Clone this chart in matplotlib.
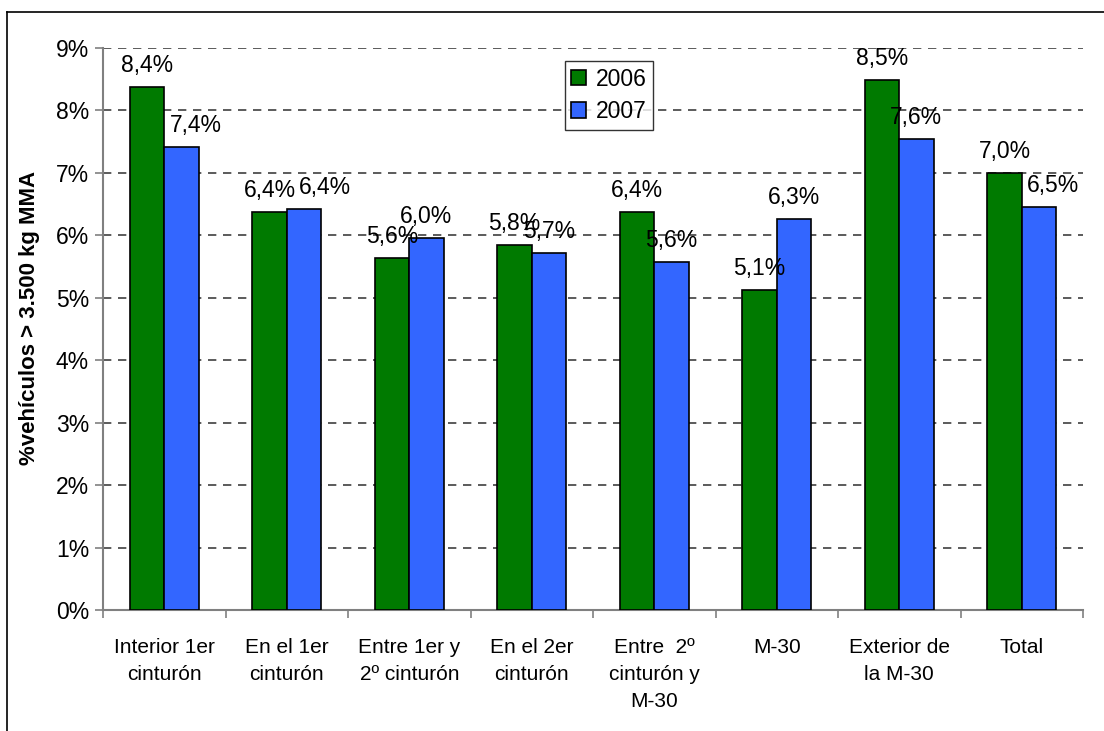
import numpy as np
import matplotlib
matplotlib.use("Agg")
import matplotlib.pyplot as plt
from matplotlib.lines import Line2D

plt.rcParams['font.family'] = ['Liberation Sans', 'DejaVu Sans']

categories = [
    "Interior 1er\ncinturón",
    "En el 1er\ncinturón",
    "Entre 1er y\n2º cinturón",
    "En el 2er\ncinturón",
    "Entre  2º\ncinturón y\nM-30",
    "M-30",
    "Exterior de\nla M-30",
    "Total",
]
vals_2006 = [8.37, 6.37, 5.63, 5.84, 6.37, 5.13, 8.48, 7.00]
vals_2007 = [7.42, 6.42, 5.95, 5.71, 5.57, 6.26, 7.55, 6.45]
labels_2006 = ["8,4%", "6,4%", "5,6%", "5,8%", "6,4%", "5,1%", "8,5%", "7,0%"]
labels_2007 = ["7,4%", "6,4%", "6,0%", "5,7%", "5,6%", "6,3%", "7,6%", "6,5%"]
yticks = [0, 1, 2, 3, 4, 5, 6, 7, 8, 9]

green = "#007a00"
blue = "#3366ff"

fig = plt.figure(figsize=(11.04, 7.31), dpi=100)
ax = fig.add_axes([0.0933, 0.1655, 0.8877, 0.7688])

x = np.arange(len(categories))
w = 0.28
ax.bar(x - w / 2, vals_2006, w, color=green, edgecolor="black", linewidth=1.2, label="2006", zorder=3)
ax.bar(x + w / 2, vals_2007, w, color=blue, edgecolor="black", linewidth=1.2, label="2007", zorder=3)

# data labels, a couple nudged sideways like in the original
nudge_2007 = {0: 14, 1: 21, 7: 14}
for i in range(len(categories)):
    ax.annotate(labels_2006[i], (x[i] - w / 2, vals_2006[i]), xytext=(0, 15),
                textcoords="offset pixels", ha="center", va="baseline", fontsize=16.5, zorder=4)
    ax.annotate(labels_2007[i], (x[i] + w / 2, vals_2007[i]), xytext=(nudge_2007.get(i, 0), 15),
                textcoords="offset pixels", ha="center", va="baseline", fontsize=16.5, zorder=4)

ax.set_xlim(-0.5, len(categories) - 0.5)
ax.set_ylim(0, 9)
ax.set_yticks(yticks)
ax.set_yticklabels([f"{t}%" for t in yticks], fontsize=16.5)

ax.set_xticks(x)
ax.set_xticklabels(categories, fontsize=15, linespacing=1.55, va="top")
ax.tick_params(axis="x", length=0, pad=20)
ax.set_xticks(np.arange(len(categories) + 1) - 0.5, minor=True)
ax.tick_params(axis="x", which="minor", length=6, color="#808080", width=1.2)
ax.tick_params(axis="y", length=6, color="#808080", width=1.2, pad=4)

for y in yticks[1:]:
    ax.axhline(y, color="#404040", linewidth=1.2, dashes=(5, 4), zorder=1)

for s in ["top", "right"]:
    ax.spines[s].set_visible(False)
ax.spines["left"].set_color("#808080")
ax.spines["left"].set_linewidth(1.5)
ax.spines["bottom"].set_color("#808080")
ax.spines["bottom"].set_linewidth(1.5)

ax.set_ylabel("%vehículos > 3.500 kg MMA", fontsize=16, fontweight="bold")
ax.yaxis.set_label_coords(-0.064, 0.52)

leg = ax.legend(loc="upper left", bbox_to_anchor=(0.471, 0.977), fontsize=16.5, frameon=True,
                fancybox=False, shadow=False, handlelength=0.65, handleheight=0.65,
                handletextpad=0.4, borderpad=0.3, labelspacing=0.4, borderaxespad=0)
leg.get_frame().set_edgecolor("black")
leg.get_frame().set_linewidth(1.0)

# outer frame (left and top only visible in the reference)
fig.add_artist(Line2D([6.5 / 1104, 6.5 / 1104], [0, 1 - 12 / 731], color="black", linewidth=1.2, transform=fig.transFigure))
fig.add_artist(Line2D([6.5 / 1104, 1], [1 - 12 / 731, 1 - 12 / 731], color="black", linewidth=1.2, transform=fig.transFigure))

fig.savefig("out.png", dpi=100)
